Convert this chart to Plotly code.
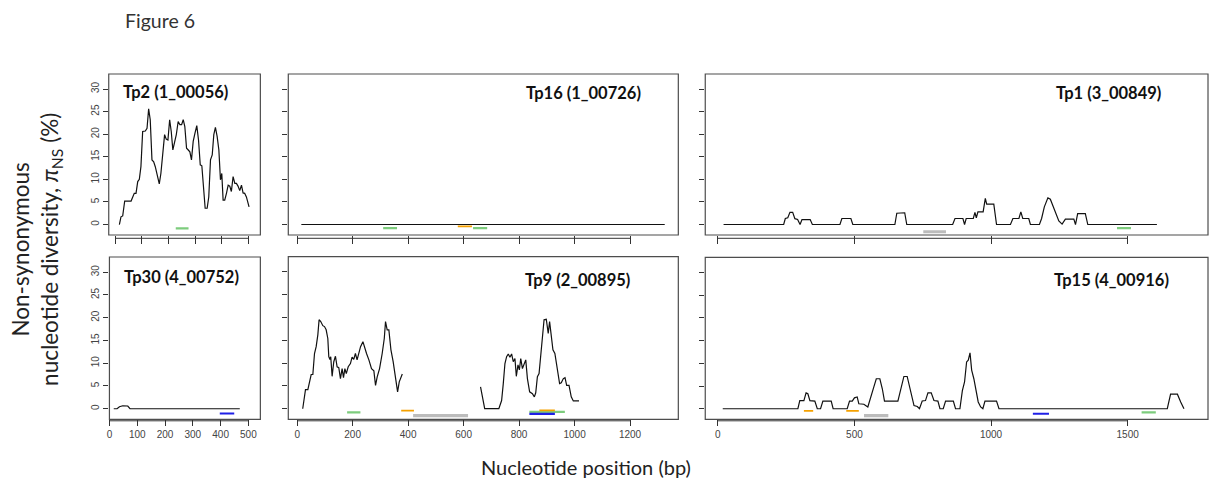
import plotly.graph_objects as go

W, H = 1210, 486

# ---------------- data ----------------
panel_titles = ["Tp2 (1_00056)", "Tp16 (1_00726)", "Tp1 (3_00849)",
                "Tp30 (4_00752)", "Tp9 (2_00895)", "Tp15 (4_00916)"]

tp2_x = [15, 21, 27.5, 35, 46, 59, 71, 77.5, 84, 90, 96, 102.5, 112.5, 119, 125, 131, 137.5, 144, 150, 156,
         165, 171, 177.5, 185, 191, 197.5, 204, 210, 216, 222.5, 229, 236, 242.5, 249, 255, 261, 267.5, 274,
         280, 286, 292.5, 299, 306, 312.5, 319, 325, 331, 337.5, 345, 351, 357.5, 364, 370, 376, 382.5, 389,
         395, 400, 405, 411, 417.5, 424, 430, 436, 442.5, 449, 455, 461, 467.5, 474, 480, 486, 492.5, 502.5]
tp2_y = [0, 1.7, 1.9, 5.2, 5.2, 5.2, 6.9, 6.9, 9.5, 10, 12.8, 20.6, 20.7, 21.3, 25.6, 23.2, 14.3, 13.9, 12.8, 11,
         9, 11.3, 15.8, 19.9, 18.9, 18.7, 23.2, 20.6, 16.5, 18, 19.9, 22.8, 22.1, 22.1, 23.2, 21.7, 16.9, 16.5,
         16.1, 14.3, 18.4, 20.2, 21.9, 18.7, 13.2, 13, 8.4, 3.6, 3.6, 6.1, 14.3, 15.4, 19.9, 21.5, 19.5, 16.5,
         9.9, 11.3, 5.4, 5.4, 6.9, 8.7, 8.5, 7.3, 10.6, 9.1, 9.1, 8.5, 7.5, 8.7, 7, 6.9, 6.1, 3.9]

tp16_x = [15, 1325]
tp16_y = [0, 0]

tp1_x = [21, 241, 247, 256, 264, 274, 282, 292, 301, 308, 338, 346, 447, 454, 487, 494, 648, 655, 684, 691.5,
         859.5, 868, 897, 903, 909, 935, 941, 946, 952, 971, 979, 984, 995, 1010, 1020, 1071, 1080, 1102, 1109,
         1116, 1138, 1144, 1177, 1185, 1195, 1208, 1217, 1227, 1238, 1248, 1260, 1272, 1303, 1309, 1317, 1345,
         1354, 1607]
tp1_y = [0, 0, 1.33, 1.5, 2.7, 2.7, 1.3, 1.1, 0, 1.1, 1.1, 0, 0, 1.33, 1.33, 0, 0, 2.5, 2.6, 0,
         0, 1.33, 1.33, 0, 1.33, 1.33, 2.7, 1.5, 2.8, 2.8, 5.8, 4.5, 4.5, 4.5, 0, 0, 1.33, 1.33, 2.8,
         1.33, 1.33, 0, 0, 1.33, 3.9, 5.9, 5.6, 3.9, 2.1, 0.8, 0.1, 1.2, 1.2, 0, 2.4, 2.4,
         0, 0]

tp30_x = [15.5, 27.5, 36, 48, 66, 74, 469]
tp30_y = [0, 0, 0.45, 0.66, 0.6, 0, 0]

tp9_x = [20, 30, 38.5, 44.5, 50.5, 56.5, 62.5, 68.5, 74.5, 79, 85, 92.5, 98.5, 104.5, 110.5, 114, 118, 121, 126,
         132, 138, 144, 150, 156, 162, 167, 172, 177, 184, 192, 198, 204, 210, 216, 222, 228.5, 237, 244, 250,
         258.5, 268, 276.5, 282.5, 288.5, 297, 306.5, 314, 318.5, 324.5, 330.5, 338, 346, 355, 362, 368, 379,
         None,
         661, 667, 676, 727, 737, 743, 749, 755, 761, 767, 773, 779, 785, 790, 796, 801, 806, 812, 818, 824,
         830, 838, 848, 855, 860, 866, 872, 878, 884, 890, 898, 905, 910, 916, 922, 929, 938, 946, 952, 959.5,
         965.5, 971.5, 980, 988, 995.5, 1016]
tp9_y = [0, 4.2, 4.2, 5.9, 7.5, 7.5, 12.1, 13.6, 16.2, 19.5, 19.1, 18.2, 18, 17.3, 15.4, 11.4, 10.8, 11.4, 7.1,
         10.3, 11.5, 9.2, 9, 6.6, 8.8, 6.8, 8.8, 7.7, 9.2, 9.9, 11.3, 10.8, 12.1, 10.7, 12.1, 13.6, 14.7, 13.2,
         12.1, 10.7, 8.8, 8.3, 5.1, 7, 8.8, 12.1, 15.4, 19.1, 17.3, 17.3, 12.9, 10.3, 7, 3.7, 5.9, 7.6,
         None,
         4.8, 2.6, 0, 0, 1.8, 5.5, 9.9, 11.4, 12, 11.3, 12, 10.3, 11, 7.1, 9.6, 8.5, 11, 8.8, 9.6, 10.7,
         6.6, 3.7, 3.3, 2.6, 3.5, 7, 7.7, 11.4, 14.3, 19.5, 19.6, 16.5, 19.1, 15.1, 12.9, 12.1, 8.1, 5.5, 5.7,
         6.6, 6.8, 5.1, 5.1, 2.6, 1.7, 1.7]

tp15_x = [18, 293, 300, 315, 323, 329.5, 337, 355, 364, 376, 384.5, 415, 422, 473.5, 482, 492, 500, 510, 516,
          534.5, 549, 559, 571, 580, 593, 602, 610, 659, 665, 671, 681, 693, 705.5, 718, 730, 738, 748, 760,
          769, 781, 791, 805.5, 813, 825, 833.5, 862, 870, 886, 895, 903, 910.5, 916.6, 923, 929, 937, 945,
          953, 962, 970, 977.7, 1020, 1029, 1645, 1657, 1682, 1694, 1706]
tp15_y = [0, 0, 1.8, 1.8, 3.5, 3.3, 1.8, 1.7, 0, 0, 1.7, 1.7, 0, 0, 1.7, 1.7, 2.4, 2.6, 1.1,
          1, 0.4, 2.2, 4.8, 6.6, 6.6, 4.4, 1.7, 1.7, 3.3, 4.8, 7.1, 7.1, 4, 0.7, 0.5, 0, 1.7, 1.8,
          3.5, 3.5, 1.8, 1.7, 0, 0, 1.7, 1.7, 0, 0, 4, 5.9, 10.3, 10.7, 12.3, 8.5, 6.6, 4,
          1.5, 0.4, 0, 1.7, 1.7, 0, 0, 3.2, 3.2, 1.5, 0]

# colored region bars: (start, end, level, kind)
tp2_bars = [(227, 275, -0.85, "green")]
tp16_bars = [(310, 360, -0.8, "green"), (579, 630, -0.4, "orange"), (634, 685, -0.8, "green")]
tp1_bars = [(752, 835, -1.6, "gray"), (1461, 1512, -0.8, "green")]
tp30_bars = [(397, 449, -1.05, "blue")]
tp9_bars = [(180, 228, -0.8, "green"), (375, 421, -0.4, "orange"), (418, 616, -1.5, "gray"),
            (837, 965, -0.7, "green"), (873, 929, -0.35, "orange"), (837, 929, -1.15, "blue")]
tp15_bars = [(315, 349, -0.45, "orange"), (470, 516, -0.45, "orange"), (535, 624, -1.5, "gray"),
             (1153, 1212, -1.1, "blue"), (1551, 1603, -0.8, "green")]

left_ticks = [0, 100, 200, 300, 400, 500]
mid_ticks = [0, 200, 400, 600, 800, 1000, 1200]
right_ticks = [0, 500, 1000, 1500]
y_ticks = [0, 5, 10, 15, 20, 25, 30]

# ---------------- styling / layout ----------------
bar_colors = {"green": "#7dcc7d", "orange": "#f5a100", "blue": "#1f1fe6", "gray": "#bcbcbc"}
bar_widths = {"green": 2.2, "orange": 1.8, "blue": 2.2, "gray": 3.2}

# panel boxes in pixels: (x0, x1, y0_top, y1_bottom)
boxes = [(106, 258, 74, 235), (286, 677, 74, 235), (704, 1208, 74, 235),
         (106.7, 258, 257, 419.3), (286, 677, 256.7, 419.3), (704, 1208, 257.3, 419.3)]
xranges = [[-25, 545], [-32, 1374], [-46, 1794], [0, 543], [-32, 1374], [-46, 1794]]
xticks = [left_ticks, mid_ticks, right_ticks, left_ticks, mid_ticks, right_ticks]
axis_line_y = [238.3, 238.3, 238.3, 420.8, 420.8, 420.8]
x_ticklen = [8, 8, 8, 6, 6, 6]
yrange = [-2.32, 33.32]

series = [(tp2_x, tp2_y, tp2_bars), (tp16_x, tp16_y, tp16_bars), (tp1_x, tp1_y, tp1_bars),
          (tp30_x, tp30_y, tp30_bars), (tp9_x, tp9_y, tp9_bars), (tp15_x, tp15_y, tp15_bars)]

title_pos = [(118, 92), (522, 93), (1054, 93), (119, 277), (521, 280), (1052, 280)]

fig = go.Figure()
layout = dict(width=W, height=H, autosize=False, margin=dict(l=0, r=0, t=0, b=0, pad=0),
              paper_bgcolor="white", plot_bgcolor="white", showlegend=False)
shapes = []
annotations = []
tickfont = dict(family="Liberation Sans, Arial", size=10, color="#444")

for i, ((sx, sy, bars), box) in enumerate(zip(series, boxes)):
    n = i + 1
    xa = "x" if n == 1 else f"x{n}"
    ya = "y" if n == 1 else f"y{n}"
    for (s, e, lvl, kind) in bars:
        fig.add_trace(go.Scatter(x=[s, e], y=[lvl, lvl], mode="lines", xaxis=xa, yaxis=ya,
                                 line=dict(color=bar_colors[kind], width=bar_widths[kind]),
                                 hoverinfo="skip"))
    fig.add_trace(go.Scatter(x=sx, y=sy, mode="lines", xaxis=xa, yaxis=ya,
                             line=dict(color="#111", width=1.2), connectgaps=False))
    x0, x1, yt, yb = box
    bottom_row = i >= 3
    left_col = i in (0, 3)
    layout["xaxis" if n == 1 else f"xaxis{n}"] = dict(
        domain=[x0 / W, x1 / W], range=xranges[i], anchor=ya,
        showgrid=False, zeroline=False, showline=False,
        tickmode="array", tickvals=xticks[i], ticktext=[str(t) for t in xticks[i]],
        showticklabels=bottom_row, ticks="outside", ticklen=x_ticklen[i], tickwidth=1, tickcolor="#333",
        tickfont=tickfont, fixedrange=True)
    layout["yaxis" if n == 1 else f"yaxis{n}"] = dict(
        domain=[1 - yb / H, 1 - yt / H], range=yrange, anchor=xa,
        showgrid=False, zeroline=False, showline=False,
        tickmode="array", tickvals=y_ticks, ticktext=[str(t) for t in y_ticks],
        showticklabels=left_col, tickangle=-90, ticks="outside", ticklen=5, tickwidth=1,
        tickcolor="#333", tickfont=tickfont, fixedrange=True)
    shapes.append(dict(type="rect", xref=f"{xa} domain", yref=f"{ya} domain", x0=0, x1=1, y0=0, y1=1,
                       line=dict(color="#4d4d4d", width=1.2), layer="above"))
    shapes.append(dict(type="line", xref=xa, yref="paper", x0=xticks[i][0], x1=xticks[i][-1],
                       y0=1 - axis_line_y[i] / H, y1=1 - axis_line_y[i] / H,
                       line=dict(color="#333", width=1)))
    tx, ty = title_pos[i]
    annotations.append(dict(text=f"<b>{panel_titles[i]}</b>", x=tx / W, y=1 - ty / H, xref="paper",
                            yref="paper", xanchor="left", yanchor="middle", showarrow=False,
                            font=dict(family="Lato", size=16.5, color="#111")))

annotations.append(dict(text="Figure 6", x=120 / W, y=1 - 20 / H, xref="paper", yref="paper",
                        xanchor="left", yanchor="middle", showarrow=False,
                        font=dict(family="Lato", size=19.5, color="#333")))
annotations.append(dict(text="Nucleotide position (bp)", x=584 / W, y=1 - 467 / H, xref="paper",
                        yref="paper", xanchor="center", yanchor="middle", showarrow=False,
                        font=dict(family="Lato", size=20, color="#222")))
annotations.append(dict(text="Non-synonymous<br>nucleotide diversity, <i>π</i><sub>NS</sub> (%)",
                        x=33 / W, y=1 - 249 / H, xref="paper", yref="paper", xanchor="center",
                        yanchor="middle", showarrow=False, textangle=-90,
                        font=dict(family="Lato", size=22.5, color="#222")))

layout["shapes"] = shapes
layout["annotations"] = annotations
fig.update_layout(**layout)
fig.write_html("out.html", config={"displayModeBar": False},
               post_script="document.body.style.margin='0';document.body.style.overflow='hidden';")
